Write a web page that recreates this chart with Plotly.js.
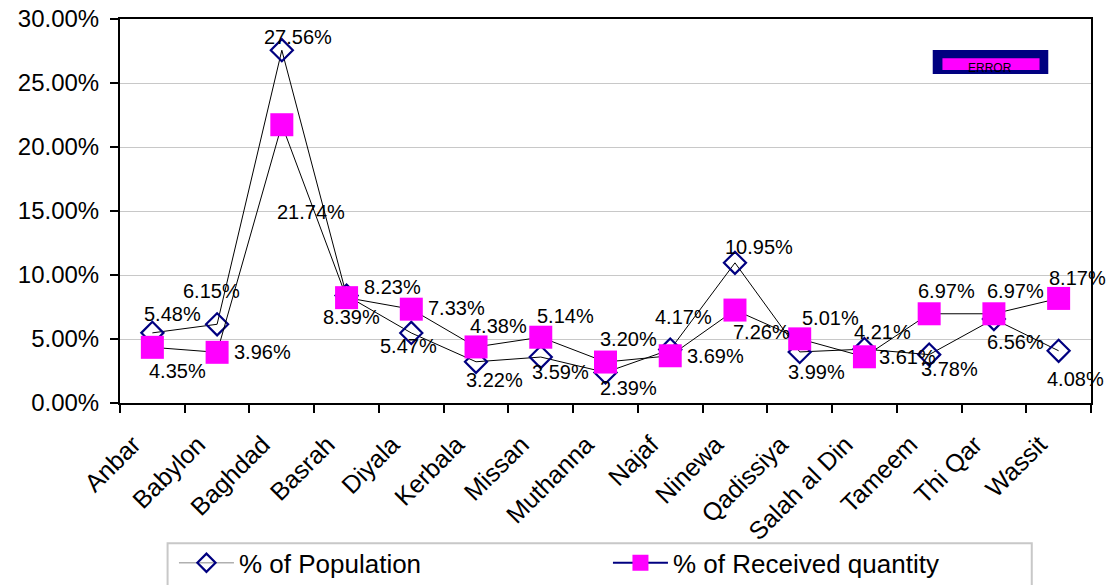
<!DOCTYPE html>
<html>
<head>
<meta charset="utf-8">
<script src="https://cdn.plot.ly/plotly-3.0.1.min.js"></script>
<style>html,body{margin:0;padding:0;background:#fff;}#chart{width:1108px;height:585px;}</style>
</head>
<body>
<div id="chart"></div>
<script>
var categories = ["Anbar","Babylon","Baghdad","Basrah","Diyala","Kerbala","Missan","Muthanna","Najaf","Ninewa","Qadissiya","Salah al Din","Tameem","Thi Qar","Wassit"];
var population = [5.48,6.15,27.56,8.39,5.47,3.22,3.59,2.39,4.17,10.95,3.99,4.21,3.78,6.56,4.08];
var received   = [4.35,3.96,21.74,8.23,7.33,4.38,5.14,3.20,3.69,7.26,5.01,3.61,6.97,6.97,8.17];
var yTicks = [0,5,10,15,20,25,30];
var yTickLabels = yTicks.map(function(v){ return v.toFixed(2) + "%"; });

// label offsets in screen pixels [dx, dy] (style only)
var popOffsets = [[20,-19],[-6,-33],[16,-13],[5,21],[-3,13],[18,18],[20,15],[23,16],[13,-33],[24,-16],[17,20],[18,-17],[20,14],[22,23],[17,28]];
var recOffsets = [[25,24],[45,0],[29,87],[46,-11],[45,-1],[22,-21],[25,-21],[23,-23],[45,0],[27,22],[31,-21],[43,0],[17,-23],[22,-23],[19,-20]];

var FONT = "Liberation Sans, Arial, sans-serif";
var labelFont = {family:FONT, size:20, color:"#000"};
var annotations = [];
function addLabels(vals, offs){
  for (var i=0;i<vals.length;i++){
    annotations.push({x:categories[i], y:vals[i], xref:"x", yref:"y", text:vals[i].toFixed(2)+"%",
      showarrow:false, xshift:offs[i][0], yshift:-offs[i][1], font:labelFont});
  }
}
addLabels(population, popOffsets);
addLabels(received, recOffsets);
annotations.push({xref:"paper", yref:"paper", x:0.8955, y:0.872, text:"ERROR", showarrow:false,
  font:{family:FONT, size:12, color:"#000"}, xanchor:"center", yanchor:"middle"});

var traces = [
  {x:categories, y:population, type:"scatter", mode:"lines+markers", showlegend:false, cliponaxis:false,
   line:{color:"#000", width:1},
   marker:{symbol:"diamond-open", size:17, color:"#000080", line:{color:"#000080", width:2.2}}},
  {x:categories, y:received, type:"scatter", mode:"lines+markers", showlegend:false, cliponaxis:false,
   line:{color:"#000", width:1},
   marker:{symbol:"square", size:23, color:"#FF00FF", line:{color:"#FF00FF", width:0}}},
  {x:[null], y:[null], type:"scatter", mode:"lines+markers", name:"% of Population",
   line:{color:"#b0b0b0", width:1.5},
   marker:{symbol:"diamond-open", size:14, color:"#000080", line:{color:"#000080", width:2.2}}},
  {x:[null], y:[null], type:"scatter", mode:"lines+markers", name:"% of Received quantity",
   line:{color:"#000080", width:2},
   marker:{symbol:"square", size:18, color:"#FF00FF", line:{width:0}}}
];

var layout = {
  width:1108, height:585,
  margin:{l:120, r:17, t:19, b:182, autoexpand:false},
  paper_bgcolor:"#fff", plot_bgcolor:"#fff",
  font:{family:FONT, color:"#000"},
  xaxis:{type:"category", range:[-0.5,14.5], tickson:"boundaries", ticks:"outside", ticklen:8, tickwidth:2, tickcolor:"#000",
    showline:true, linecolor:"#000", linewidth:2, mirror:true, showgrid:false, tickangle:-45, automargin:false,
    ticklabelstandoff:15, ticklabelshift:-19,
    tickfont:{size:25, family:FONT}, fixedrange:true},
  yaxis:{range:[0,30], tickvals:yTicks, ticktext:yTickLabels, ticks:"outside", ticklen:8, tickwidth:2, tickcolor:"#000",
    showline:true, linecolor:"#000", linewidth:2, mirror:true, showgrid:true, gridcolor:"#c8c8c8", gridwidth:1,
    ticklabelstandoff:6,
    zeroline:false, automargin:false, tickfont:{size:24, family:FONT}, fixedrange:true},
  showlegend:true,
  legend:{orientation:"h", xref:"container", yref:"container", x:0.157, y:0.078, xanchor:"left", yanchor:"top",
    itemwidth:55, entrywidth:364,
    font:{size:26, family:FONT}, borderwidth:0, bgcolor:"rgba(0,0,0,0)", itemclick:false},
  shapes:[
    {type:"rect", xref:"paper", yref:"paper", x0:0.049, x1:0.939, y0:-0.52, y1:-0.365, line:{color:"#c8c8c8", width:2}, fillcolor:"rgba(0,0,0,0)", layer:"below"},
    {type:"rect", xref:"paper", yref:"paper", x0:0.837, x1:0.956, y0:0.857, y1:0.919, line:{width:0}, fillcolor:"#000080"},
    {type:"rect", xref:"paper", yref:"paper", x0:0.847, x1:0.947, y0:0.867, y1:0.898, line:{width:0}, fillcolor:"#FF00FF"}
  ],
  annotations:annotations
};

Plotly.newPlot("chart", traces, layout, {displayModeBar:false, staticPlot:true});
</script>
</body>
</html>
